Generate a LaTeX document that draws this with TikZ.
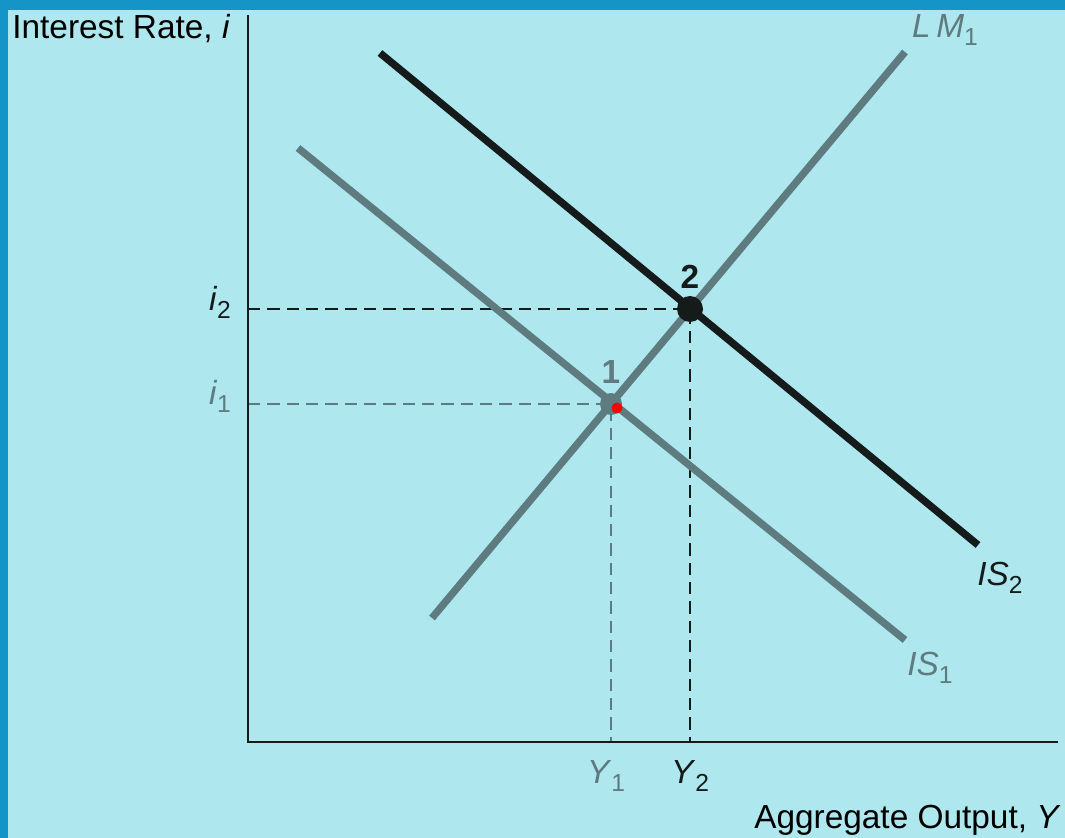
\documentclass[tikz,border=0pt]{standalone}
\usepackage{fontspec}
\setmainfont{Liberation Sans}
\usepackage{tikz}
\usetikzlibrary{positioning}

\definecolor{framebl}{HTML}{1595C7}
\definecolor{paper}{HTML}{AEE8EE}
\definecolor{curvegray}{HTML}{5E7B7F}
\definecolor{curveblack}{HTML}{151A1B}
\newcommand{\lowsub}[1]{\raisebox{-0.45ex}{\fontsize{14}{14}\selectfont #1}}

\begin{document}
\begin{tikzpicture}[x=0.02cm, y=-0.02cm,
    curve/.style={line width=4.2pt, line cap=butt},
    guide/.style={line width=1.2pt, dash pattern=on 7pt off 4pt},
    label/.style={inner sep=0pt, font=\fontsize{19}{21}\selectfont},
    eqdot/.style={circle, inner sep=0pt, minimum size=#1}
    ]
    %Frame
    \useasboundingbox (0,0) rectangle (1065,838);
    \fill[framebl] (0,0) rectangle (1065,838);
    \fill[paper] (8,10) rectangle (1065,838);

    %Points
    \coordinate (origin)    at (248,742);
    \coordinate (y_top)     at (248,15);
    \coordinate (x_right)   at (1058,742);
    \coordinate (lm_start)  at (432,618);
    \coordinate (lm_end)    at (905,52);
    \coordinate (is1_start) at (298,148);
    \coordinate (is1_end)   at (905,640);
    \coordinate (is2_start) at (380,53);
    \coordinate (is2_end)   at (978,545);
    \coordinate (i_one)     at (248,404);
    \coordinate (i_two)     at (248,309);
    \coordinate (y_one)     at (611,742);
    \coordinate (y_two)     at (690,742);

    %Dashed guides
    \draw[guide, curvegray]  (i_one) -- (611,404) -- (y_one);
    \draw[guide, curveblack] (i_two) -- (690,309) -- (y_two);

    %Curves
    \draw[curve, curvegray]  (lm_start) -- (lm_end);
    \draw[curve, curvegray]  (is1_start) -- (is1_end);
    \draw[curve, curveblack] (is2_start) -- (is2_end);

    %Axes
    \draw[line width=1.4pt, curveblack] (y_top) -- (origin) -- (x_right);

    %Equilibria
    \node[eqdot=0.44cm, fill=curvegray]  (eq_one) at (611,404) {};
    \node[eqdot=0.52cm, fill=curveblack] (eq_two) at (690,309) {};
    \fill[red] (617,408) circle (5.5);

    %Labels
    \node[label, anchor=west]        (title_i)  at (12,29)   {Interest Rate, \textit{i}};
    \node[label, anchor=east]        (title_y)  at (1061,820) {Aggregate Output,  \textit{Y}};
    \node[label, text=curvegray]     (lm_lbl)   at (945,30)  {\textit{L\,M}\lowsub{1}};
    \node[label, text=curveblack]    (is2_lbl)  at (1000,578) {\textit{IS}\lowsub{2}};
    \node[label, text=curvegray]     (is1_lbl)  at (930,668) {\textit{IS}\lowsub{1}};
    \node[label, text=curveblack]    (i2_lbl)   at (220,302) {\textit{i}\lowsub{2}};
    \node[label, text=curvegray]     (i1_lbl)   at (220,396) {\textit{i}\lowsub{1}};
    \node[label, text=curvegray]     (y1_lbl)   at (606,776) {\textit{Y}\lowsub{1}};
    \node[label, text=curveblack]    (y2_lbl)   at (690,776) {\textit{Y}\lowsub{2}};
    \node[label, text=curvegray, font=\fontsize{19}{21}\selectfont\bfseries, above=5pt of eq_one] (one_lbl) {1};
    \node[label, text=curveblack, font=\fontsize{19}{21}\selectfont\bfseries, above=4pt of eq_two] (two_lbl) {2};

    \end{tikzpicture}
\end{document}
